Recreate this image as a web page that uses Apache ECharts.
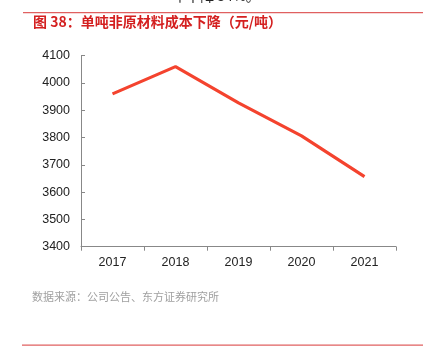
<!DOCTYPE html>
<html><head><meta charset="utf-8">
<script src="https://cdn.jsdelivr.net/npm/echarts@6/dist/echarts.min.js"></script>
<style>html,body{margin:0;padding:0;background:#fff}#c{width:432px;height:357px}</style>
</head><body><div id="c"></div>
<script>
const categories = ['2017','2018','2019','2020','2021'];
const costValues = [3960, 4060, 3927, 3806, 3657];
const yTicks = {min: 3400, max: 4100, interval: 100};
const titleText = '图 38：单吨非原材料成本下降（元/吨）';
const sourceText = '数据来源：公司公告、东方证券研究所';
const topText = '年下降 34%。';

const chart = echarts.init(document.getElementById('c'));
chart.setOption({
  animation: false,
  grid: {left: 81, right: 36, top: 55.7, bottom: 110.3},
  xAxis: {
    type: 'category', data: categories, boundaryGap: true,
    axisLine: {lineStyle: {color: '#888', width: 1}},
    axisTick: {show: true, length: 4, lineStyle: {color: '#888'}},
    axisLabel: {color: '#222', fontSize: 12.5, fontFamily: 'Liberation Sans, Arial', margin: 9}
  },
  yAxis: {
    type: 'value', min: yTicks.min, max: yTicks.max, interval: yTicks.interval,
    axisLine: {show: true, lineStyle: {color: '#888', width: 1}},
    axisTick: {show: true, length: 4, inside: true, lineStyle: {color: '#888'}},
    splitLine: {show: false},
    axisLabel: {color: '#222', fontSize: 12.5, fontFamily: 'Liberation Sans, Arial', margin: 11,
      formatter: v => String(v)}
  },
  series: [{
    type: 'line', data: costValues, symbol: 'none',
    lineStyle: {color: '#f4432e', width: 3.2}
  }],
  graphic: [
    {type: 'text', left: 'center', top: -11, style: {text: topText, fontSize: 14, fill: '#222', fontFamily: 'Noto Sans CJK SC'}},
    {type: 'rect', shape: {x: 23, y: 12, width: 400, height: 1.2}, style: {fill: '#e06060'}},
    {type: 'text', left: 33, top: 15, style: {text: titleText, fontSize: 14, fontWeight: 'bold', fill: '#d42020', fontFamily: 'Noto Sans CJK SC'}},
    {type: 'text', left: 32, top: 291, style: {text: sourceText, fontSize: 11, fill: '#a0a0a0', fontFamily: 'Noto Sans CJK SC'}},
    {type: 'rect', shape: {x: 22, y: 344.5, width: 401, height: 1.2}, style: {fill: '#e06060'}}
  ]
});
</script></body></html>
